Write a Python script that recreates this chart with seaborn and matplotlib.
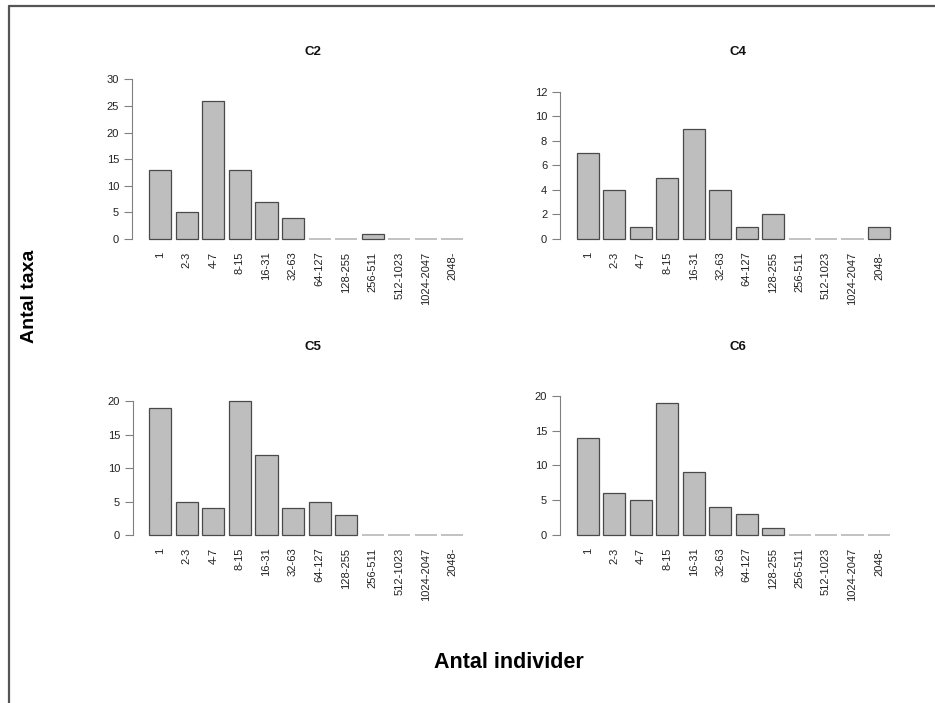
import matplotlib
matplotlib.use("Agg")
import matplotlib.pyplot as plt
import seaborn as sns
import pandas as pd
from matplotlib.lines import Line2D

# ---- data ----
klasser = ["1", "2-3", "4-7", "8-15", "16-31", "32-63", "64-127", "128-255",
           "256-511", "512-1023", "1024-2047", "2048-"]
c2 = [13, 5, 26, 13, 7, 4, 0, 0, 1, 0, 0, 0]
c4 = [7, 4, 1, 5, 9, 4, 1, 2, 0, 0, 0, 1]
c5 = [19, 5, 4, 20, 12, 4, 5, 3, 0, 0, 0, 0]
c6 = [14, 6, 5, 19, 9, 4, 3, 1, 0, 0, 0, 0]
paneler = ["C2", "C4", "C5", "C6"]
yticks_c2 = [0, 5, 10, 15, 20, 25, 30]
yticks_c4 = [0, 2, 4, 6, 8, 10, 12]
yticks_c5 = [0, 5, 10, 15, 20]
yticks_c6 = [0, 5, 10, 15, 20]
ylabel = "Antal taxa"
xlabel = "Antal individer"

sns.set_theme(style="white")
plt.rcParams["font.family"] = ["Liberation Sans", "DejaVu Sans"]

W, H = 935, 703
fig = plt.figure(figsize=(W / 100, H / 100), dpi=100)
fig.patch.set_facecolor("white")


def fx(px):
    return px / W


def fy(py):
    return 1 - py / H


layout = {
    "C2": dict(ax_x=131.7, b0=149.3, b1=463.3, right=494, y0=239.0, ytop=79.3,
               top=73, bottom=245.5, tx=313, ty=52),
    "C4": dict(ax_x=559.7, b0=576.7, b1=890.0, right=916, y0=239.0, ytop=91.7,
               top=85, bottom=245.5, tx=738, ty=52),
    "C5": dict(ax_x=132.5, b0=149.3, b1=463.3, right=494, y0=535.0, ytop=401.3,
               top=390, bottom=541.5, tx=313, ty=347),
    "C6": dict(ax_x=559.5, b0=576.7, b1=890.0, right=916, y0=534.7, ytop=396.0,
               top=390, bottom=541.5, tx=738, ty=347),
}
values = {"C2": c2, "C4": c4, "C5": c5, "C6": c6}
yticks = {"C2": yticks_c2, "C4": yticks_c4, "C5": yticks_c5, "C6": yticks_c6}

bw = 1 / 1.2
for name in paneler:
    L = layout[name]
    ax = fig.add_axes([fx(L["ax_x"]), fy(L["bottom"]),
                       fx(L["right"] - L["ax_x"]), (L["bottom"] - L["top"]) / H])
    df = pd.DataFrame({"klass": klasser, "antal": values[name]})
    sns.barplot(data=df, x="klass", y="antal", order=klasser, ax=ax,
                color="#bebebe", saturation=1, width=bw,
                edgecolor="#4a4a4a", linewidth=0.9)
    for p in ax.patches:
        if p.get_height() == 0:
            p.set_edgecolor("#b8b8b8")
            p.set_linewidth(1.2)
    n = len(klasser)
    pitch = (L["b1"] - L["b0"]) / (n - 1 + bw)
    xl = -bw / 2 - (L["b0"] - L["ax_x"]) / pitch
    xr = xl + (L["right"] - L["ax_x"]) / pitch
    ax.set_xlim(xl, xr)
    tv = yticks[name][-1]
    s = (L["y0"] - L["ytop"]) / tv
    ax.set_ylim(-(L["bottom"] - L["y0"]) / s, (L["y0"] - L["top"]) / s)

    ax.set_yticks(yticks[name])
    ax.set_yticklabels([str(v) for v in yticks[name]])
    ax.set_xticks(range(n))
    ax.set_xticklabels(klasser, rotation=90, ha="center", va="top")
    ax.tick_params(axis="x", length=0, pad=4.5, labelsize=8, labelcolor="#222222")
    ax.tick_params(axis="y", length=6, width=0.8, color="#808080", pad=3,
                   labelsize=8, labelcolor="#222222", left=True)
    for sp in ["top", "right", "bottom"]:
        ax.spines[sp].set_visible(False)
    ax.spines["left"].set_bounds(0, tv)
    ax.spines["left"].set_color("#808080")
    ax.spines["left"].set_linewidth(0.8)
    ax.set_xlabel("")
    ax.set_ylabel("")
    ax.patch.set_alpha(0)
    fig.text(fx(L["tx"]), fy(L["ty"]), name, ha="center", va="center",
             fontsize=9.5, fontweight="bold", color="#111111")

fig.text(fx(30), fy(296), ylabel, rotation=90, ha="center", va="center",
         fontsize=14, fontweight="bold", color="black")
fig.text(fx(509), fy(663), xlabel, ha="center", va="center",
         fontsize=15.5, fontweight="bold", color="black")

fig.add_artist(Line2D([fx(9), 1.0], [fy(5.5), fy(5.5)], transform=fig.transFigure,
                      color="#555555", linewidth=1.6))
fig.add_artist(Line2D([fx(9), fx(9)], [fy(5.5), 0.0], transform=fig.transFigure,
                      color="#555555", linewidth=1.6))

fig.savefig("out.png", dpi=100, facecolor="white")
